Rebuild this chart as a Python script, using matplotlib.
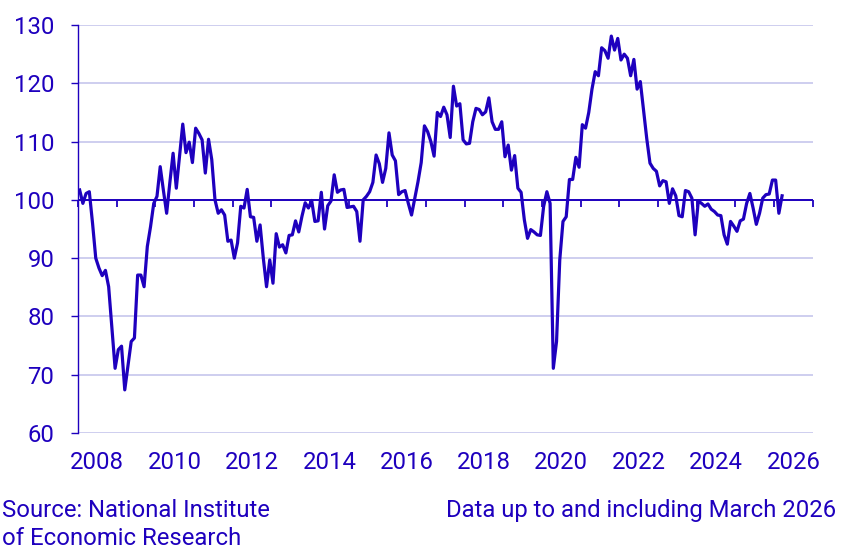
import matplotlib
matplotlib.use('Agg')
import matplotlib.pyplot as plt
import numpy as np
import pandas as pd

# Economic Tendency Indicator, monthly, Jan 2008 - Mar 2026
eti_2008 = [101.7, 99.4, 101.1, 101.4, 96.0, 90.0, 88.3, 87.0, 87.9, 85.1, 78.0, 71.1]
eti_2009 = [74.3, 74.9, 67.4, 71.5, 75.7, 76.3, 87.1, 87.1, 85.1, 92.0, 95.4, 99.4]
eti_2010 = [100.6, 105.7, 101.6, 97.7, 103.0, 108.0, 102.0, 107.5, 113.0, 108.1, 109.9, 106.4]
eti_2011 = [112.3, 111.4, 110.3, 104.6, 110.4, 106.9, 100.0, 97.7, 98.3, 97.4, 92.9, 93.1]
eti_2012 = [90.0, 92.6, 98.9, 98.6, 101.8, 97.1, 97.0, 92.9, 95.7, 90.0, 85.1, 89.7]
eti_2013 = [85.7, 94.2, 91.9, 92.3, 90.9, 93.9, 94.0, 96.4, 94.5, 97.2, 99.5, 98.6]
eti_2014 = [99.9, 96.3, 96.4, 101.3, 95.0, 99.0, 99.8, 104.3, 101.3, 101.7, 101.8, 98.7]
eti_2015 = [98.8, 98.9, 98.0, 92.9, 100.0, 100.6, 101.4, 103.0, 107.7, 106.2, 103.0, 105.4]
eti_2016 = [111.5, 107.7, 106.7, 100.9, 101.4, 101.6, 99.4, 97.4, 100.3, 103.1, 106.4, 112.7]
eti_2017 = [111.7, 110.0, 107.5, 115.0, 114.3, 115.9, 114.6, 110.7, 119.5, 116.1, 116.5, 110.3]
eti_2018 = [109.6, 109.7, 113.4, 115.7, 115.5, 114.6, 115.1, 117.5, 113.4, 112.1, 112.1, 113.4]
eti_2019 = [107.4, 109.4, 105.1, 107.6, 102.0, 101.3, 96.6, 93.4, 94.9, 94.5, 94.0, 93.9]
eti_2020 = [98.9, 101.4, 99.4, 71.1, 75.7, 89.7, 96.3, 97.1, 103.5, 103.5, 107.3, 105.6]
eti_2021 = [112.9, 112.3, 115.0, 119.0, 122.0, 121.3, 126.1, 125.6, 124.3, 128.1, 125.7, 127.7]
eti_2022 = [124.0, 125.0, 124.3, 121.3, 124.1, 119.0, 120.3, 115.4, 110.5, 106.3, 105.4, 104.9]
eti_2023 = [102.4, 103.3, 103.1, 99.4, 101.9, 100.7, 97.3, 97.1, 101.6, 101.4, 100.3, 94.0]
eti_2024 = [99.8, 99.4, 98.9, 99.3, 98.4, 98.0, 97.4, 97.3, 94.0, 92.4, 96.3, 95.5]
eti_2025 = [94.6, 96.4, 96.7, 99.4, 101.1, 98.6, 95.8, 97.7, 100.3, 100.9, 101.0, 103.4]
eti_2026 = [103.4, 97.7, 100.7]

values = (eti_2008 + eti_2009 + eti_2010 + eti_2011 + eti_2012 + eti_2013 + eti_2014
          + eti_2015 + eti_2016 + eti_2017 + eti_2018 + eti_2019 + eti_2020 + eti_2021
          + eti_2022 + eti_2023 + eti_2024 + eti_2025 + eti_2026)
months = pd.date_range('2008-01-01', periods=len(values), freq='MS')

year_labels = ['2008', '2010', '2012', '2014', '2016', '2018', '2020', '2022', '2024', '2026']
y_ticks = [60, 70, 80, 90, 100, 110, 120, 130]
base_level = 100
source_lines = ['Source: National Institute', 'of Economic Research']
note = 'Data up to and including March 2026'

BLUE = '#1e00be'
GRID = '#cacaee'
FS = 17.2
plt.rcParams['font.family'] = ['Roboto', 'DejaVu Sans']

# decimal year, centred in each month
x = months.year + (months.month - 0.5) / 12.0

fig = plt.figure(figsize=(8.51, 5.56), dpi=100)
ax = fig.add_axes([0.0917, 0.2212, 0.8633, 0.7338])

ax.plot(x, values, color=BLUE, linewidth=2.3, zorder=5)
ax.axhline(base_level, color=BLUE, linewidth=1.4, zorder=4)

ax.set_xlim(2008, 2027)
ax.set_ylim(60, 130)
ax.set_yticks(y_ticks)
ax.set_yticklabels([str(v) for v in y_ticks])
ax.grid(axis='y', color=GRID, linewidth=1.3)
ax.set_axisbelow(True)

label_pos = [int(y) + 0.5 for y in year_labels]
ax.set_xticks(label_pos)
ax.set_xticklabels(year_labels)
ax.tick_params(axis='x', length=0, pad=13, labelsize=FS, labelcolor=BLUE)
ax.tick_params(axis='y', length=5, width=1.0, color=BLUE, pad=12,
               labelsize=FS, labelcolor=BLUE)

for s in ['top', 'right', 'bottom']:
    ax.spines[s].set_visible(False)
ax.spines['left'].set_color(BLUE)
ax.spines['left'].set_linewidth(1.0)

# yearly ticks hanging from the 100 line
sec = ax.secondary_xaxis((base_level - 60) / (130 - 60))
sec.set_alignment('bottom')
sec.set_xticks(range(2008, 2028))
sec.set_xticklabels([])
sec.tick_params(axis='x', direction='out', length=5, width=1.3, color=BLUE)
sec.spines['bottom'].set_visible(False)
sec.spines['top'].set_visible(False)

fig.text(0.002, 1 - 516.7 / 556, source_lines[0], fontsize=FS, color=BLUE,
         ha='left', va='baseline')
fig.text(0.002, 1 - 545 / 556, source_lines[1], fontsize=FS, color=BLUE,
         ha='left', va='baseline')
fig.text(0.983, 1 - 516.7 / 556, note, fontsize=FS, color=BLUE,
         ha='right', va='baseline')

fig.savefig('out.png', dpi=100)
